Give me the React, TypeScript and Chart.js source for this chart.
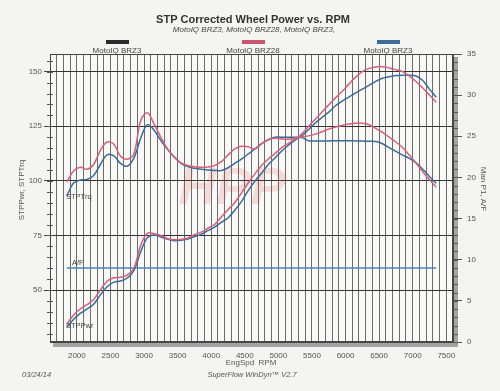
import React, { useEffect, useRef } from 'react';
import { Chart, registerables } from 'chart.js';

Chart.register(...registerables);

// ---------- DATA ----------
const RPM = [
  1850, 1950, 2050, 2150, 2250, 2350, 2450, 2550, 2650, 2750,
  2850, 2950, 3050, 3150, 3250, 3350, 3450, 3550, 3650, 3750,
  3850, 3950, 4050, 4150, 4250, 4350, 4450, 4550, 4650, 4750,
  4850, 4950, 5050, 5150, 5250, 5350, 5450, 5550, 5650, 5750,
  5850, 5950, 6050, 6150, 6250, 6350, 6450, 6550, 6650, 6750,
  6850, 6950, 7050, 7150, 7250, 7350,
];

// MotoIQ BRZ28 (red)
const TRQ_BRZ28 = [
  99.5, 104.5, 106.2, 105.3, 107.5, 114.0, 117.8, 116.8, 111.3, 109.9,
  112.5, 127.5, 131.2, 126.0, 120.0, 114.5, 110.8, 108.2, 107.0, 106.5,
  106.2, 106.3, 107.0, 108.8, 111.8, 114.6, 115.8, 115.6, 114.6, 117.0,
  119.0, 119.5, 119.2, 119.1, 119.6, 120.2, 120.6, 121.4, 122.5, 123.7,
  124.7, 125.4, 126.0, 126.4, 126.4, 125.7, 124.0, 122.2, 120.0, 117.8,
  115.3, 111.8, 108.2, 104.2, 100.5, 97.2,
];
const PWR_BRZ28 = [
  34.5, 38.5, 41.3, 43.3, 45.7, 50.0, 54.0, 55.6, 55.9, 56.8,
  60.0, 70.5, 76.0, 75.8, 75.0, 73.5, 73.0, 73.2, 73.8, 75.3,
  76.5, 78.3, 80.0, 83.5, 86.8, 90.0, 94.5, 99.0, 103.2, 107.0,
  110.0, 112.5, 115.2, 117.2, 119.2, 121.5, 125.0, 128.2, 131.5, 134.8,
  138.0, 141.0, 144.3, 147.5, 150.0, 151.5, 152.2, 152.3, 151.7, 150.9,
  150.0, 148.0, 145.5, 142.5, 139.3, 136.0,
];

// MotoIQ BRZ3 (blue)
const TRQ_BRZ3 = [
  93.0, 99.0, 100.4, 100.6, 102.5, 107.5, 111.9, 111.4, 108.0, 106.7,
  110.5, 119.5, 125.8, 123.2, 118.5, 114.5, 111.0, 108.0, 106.5, 105.8,
  105.3, 105.0, 104.8, 104.7, 106.0, 108.0, 110.0, 112.3, 114.6, 117.0,
  118.8, 120.0, 120.0, 120.0, 120.0, 119.8, 118.4, 118.3, 118.3, 118.3,
  118.4, 118.4, 118.4, 118.3, 118.2, 118.1, 118.0, 117.0, 115.2, 113.5,
  111.8, 110.3, 108.3, 105.3, 102.0, 98.9,
];
const PWR_BRZ3 = [
  33.0, 36.5, 39.3, 41.3, 43.5, 47.8, 51.5, 53.6, 54.1, 55.5,
  59.0, 67.5, 74.0, 75.2, 74.3, 73.3, 72.6, 72.8, 73.4, 74.5,
  75.5, 77.2, 78.8, 81.0, 83.0, 86.5, 90.5, 95.5, 99.8, 103.5,
  107.5, 110.5, 113.7, 116.3, 118.7, 120.6, 123.5, 126.5, 129.0, 131.5,
  134.4, 136.5, 138.4, 140.3, 142.0, 143.7, 145.6, 147.0, 147.7, 148.2,
  148.4, 148.4, 148.0, 146.0, 142.0, 138.3,
];

// Air/fuel trace (right axis)
const AF_RPM = [1850, 7350];
const AF_VALUES = [9.0, 9.0];

const X_MIN = 1600;
const X_MAX = 7600;
const X_LABEL_STEP = 500;
const LEFT_TICKS = [50, 75, 100, 125, 150];
const LEFT_MIN = 26.2;
const LEFT_MAX = 158.1;
const RIGHT_TICKS = [0, 5, 10, 15, 20, 25, 30, 35];

const LEGEND_LABELS = ['MotoIQ BRZ3', 'MotoIQ BRZ28', 'MotoIQ BRZ3'];
const LEGEND_COLORS = ['#2b2b2b', '#c9566c', '#3b6b9a'];

const TITLE = 'STP Corrected Wheel Power vs. RPM';
const SUBTITLE = 'MotoIQ BRZ3, MotoIQ BRZ28, MotoIQ BRZ3,';

const RED = '#d5607a';
const BLUE = '#3a6b98';
const AF_COLOR = '#4d86b8';
const FONT = '"Liberation Sans", Arial, sans-serif';

const pts = (xs: number[], ys: number[]) => xs.map((x, i) => ({ x, y: ys[i] }));

const decorPlugin = {
  id: 'decor',
  beforeDraw(chart: any) {
    const { ctx, width, height, chartArea: a } = chart;
    ctx.save();
    ctx.fillStyle = '#f4f4f2';
    ctx.fillRect(0, 0, width, height);
    ctx.fillStyle = '#f8f8f7';
    ctx.fillRect(a.left, a.top, a.right - a.left, a.bottom - a.top);
    // frame shadow
    ctx.fillStyle = '#a3a3a3';
    ctx.fillRect(a.right, a.top + 3, 5, a.bottom - a.top + 2);
    ctx.fillRect(a.left + 3, a.bottom, a.right - a.left + 2, 5);
    ctx.restore();
  },
  beforeDatasetsDraw(chart: any) {
    const { ctx } = chart;
    ctx.save();
    ctx.font = `italic bold 52px ${FONT}`;
    ctx.textAlign = 'center';
    ctx.textBaseline = 'middle';
    ctx.fillStyle = 'rgba(215, 70, 70, 0.16)';
    ctx.fillText('HPP', 232, 190);
    ctx.restore();
  },
  afterDraw(chart: any) {
    const { ctx, chartArea: a, scales } = chart;
    const yl = scales.y;
    const yr = scales.y1;
    ctx.save();
    // frame
    ctx.strokeStyle = '#444';
    ctx.lineWidth = 1;
    ctx.strokeRect(a.left + 0.5, a.top + 0.5, a.right - a.left - 1, a.bottom - a.top - 1);
    // minor ticks left axis
    ctx.strokeStyle = '#555';
    for (let v = 30; v <= 155; v += 5) {
      const y = Math.round(yl.getPixelForValue(v)) + 0.5;
      ctx.beginPath();
      ctx.moveTo(a.left - 3, y);
      ctx.lineTo(a.left + 3, y);
      ctx.stroke();
    }
    // minor ticks right axis
    for (let v = 0; v <= 35; v += 1) {
      const y = Math.round(yr.getPixelForValue(v)) + 0.5;
      ctx.beginPath();
      ctx.moveTo(a.right, y);
      ctx.lineTo(a.right + 5, y);
      ctx.stroke();
    }

    const text = (s: string, x: number, y: number, font: string, color: string, align: CanvasTextAlign = 'center') => {
      ctx.font = font;
      ctx.fillStyle = color;
      ctx.textAlign = align;
      ctx.textBaseline = 'middle';
      ctx.fillText(s, x, y);
    };

    text(TITLE, 253, 20, `bold 11px ${FONT}`, '#333');
    text(SUBTITLE, 254, 29.5, `italic 8px ${FONT}`, '#444');

    const legendX = [117, 253, 388];
    LEGEND_LABELS.forEach((lab, i) => {
      ctx.fillStyle = LEGEND_COLORS[i];
      ctx.fillRect(legendX[i] - 11, 40, 23, 4);
      text(lab, legendX[i], 50.5, `8px ${FONT}`, '#444');
    });

    // axis titles
    ctx.save();
    ctx.translate(21.5, 190);
    ctx.rotate(-Math.PI / 2);
    text('STPPwr, STPTrq', 0, 0, `8px ${FONT}`, '#555');
    ctx.restore();
    ctx.save();
    ctx.translate(483, 189);
    ctx.rotate(Math.PI / 2);
    text('Man P1, A/F', 0, 0, `8px ${FONT}`, '#555');
    ctx.restore();

    text('EngSpd  RPM', 251, 362.5, `8px ${FONT}`, '#555');
    text('03/24/14', 22, 375, `italic 7.5px ${FONT}`, '#555', 'left');
    text('SuperFlow WinDyn\u2122 V2.7', 252, 375, `italic 7.5px ${FONT}`, '#555');

    // curve annotations
    text('STPTrq', 66, 197, `7.5px ${FONT}`, '#444', 'left');
    text('STPPwr', 66, 326, `7.5px ${FONT}`, '#444', 'left');
    text('A/F', 72, 263, `7.5px ${FONT}`, '#444', 'left');
    ctx.restore();
  },
};

export default function App() {
  const ref = useRef<HTMLCanvasElement | null>(null);

  useEffect(() => {
    if (!ref.current) return;
    const lineDs = (label: string, data: any[], color: string, axis: string) => ({
      label,
      data,
      borderColor: color,
      backgroundColor: color,
      borderWidth: 1.5,
      pointRadius: 0,
      tension: 0.35,
      yAxisID: axis,
      fill: false,
    });
    const chart = new Chart(ref.current, {
      type: 'line',
      data: {
        datasets: [
          lineDs('BRZ28 STPTrq', pts(RPM, TRQ_BRZ28), RED, 'y'),
          lineDs('BRZ28 STPPwr', pts(RPM, PWR_BRZ28), RED, 'y'),
          lineDs('BRZ3 STPTrq', pts(RPM, TRQ_BRZ3), BLUE, 'y'),
          lineDs('BRZ3 STPPwr', pts(RPM, PWR_BRZ3), BLUE, 'y'),
          { ...lineDs('A/F', pts(AF_RPM, AF_VALUES), AF_COLOR, 'y1'), tension: 0 },
        ],
      },
      options: {
        responsive: false,
        animation: false,
        devicePixelRatio: 1,
        layout: { padding: { top: 54, left: 0, right: 0, bottom: 0 } },
        plugins: {
          legend: { display: false },
          title: { display: false },
          tooltip: { enabled: false },
        },
        scales: {
          x: {
            type: 'linear',
            min: X_MIN,
            max: X_MAX,
            afterFit: (s: any) => { s.height = 49; },
            afterBuildTicks: (s: any) => {
              const t = [];
              for (let v = X_MIN; v <= X_MAX; v += 100) t.push({ value: v });
              s.ticks = t;
            },
            ticks: {
              autoSkip: false,
              maxRotation: 0,
              padding: 9,
              color: '#555',
              font: { family: FONT, size: 8 },
              callback: (v: any) => (Number(v) % X_LABEL_STEP === 0 ? String(v) : ''),
            },
            grid: { color: '#6c6c6c', lineWidth: 1, drawTicks: false },
            border: { display: true, color: '#444' },
          },
          y: {
            type: 'linear',
            position: 'left',
            min: LEFT_MIN,
            max: LEFT_MAX,
            afterFit: (s: any) => { s.width = 50; },
            afterBuildTicks: (s: any) => { s.ticks = LEFT_TICKS.map((v) => ({ value: v })); },
            ticks: {
              padding: 2,
              color: '#555',
              font: { family: FONT, size: 8 },
            },
            grid: { color: '#333', lineWidth: 1, tickLength: 6, tickColor: '#444' },
            border: { display: true, color: '#444' },
          },
          y1: {
            type: 'linear',
            position: 'right',
            min: 0,
            max: 35,
            afterFit: (s: any) => { s.width = 47; },
            afterBuildTicks: (s: any) => { s.ticks = RIGHT_TICKS.map((v) => ({ value: v })); },
            ticks: {
              padding: 5,
              color: '#555',
              font: { family: FONT, size: 8 },
            },
            grid: { drawOnChartArea: false, tickLength: 9, tickColor: '#555' },
            border: { display: true, color: '#444' },
          },
        },
      } as any,
      plugins: [decorPlugin],
    });
    return () => chart.destroy();
  }, []);

  return (
    <div style={{ position: 'fixed', left: 0, top: 0, width: 500, height: 391 }}>
      <canvas ref={ref} width={500} height={391} />
    </div>
  );
}
